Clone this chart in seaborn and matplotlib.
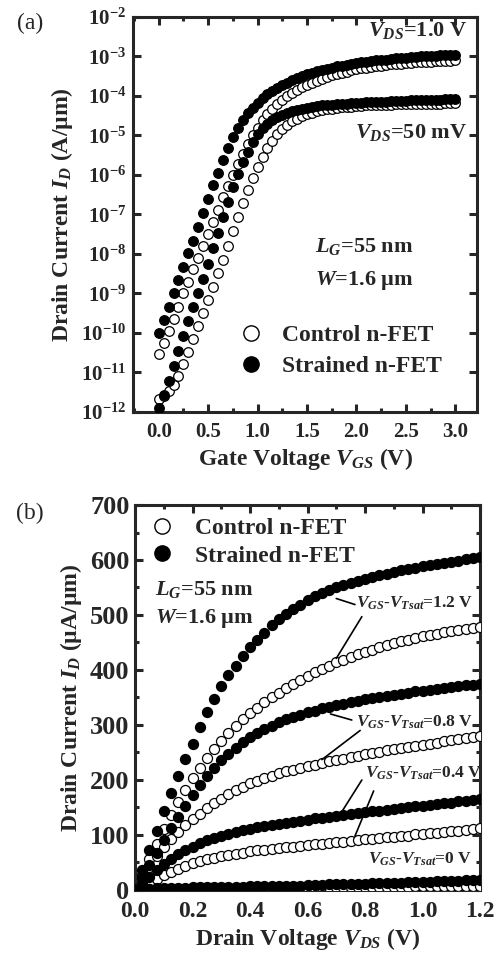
import numpy as np
import pandas as pd
import matplotlib
matplotlib.use("Agg")
import matplotlib.pyplot as plt
import seaborn as sns
from matplotlib.lines import Line2D
from matplotlib.ticker import MultipleLocator, FixedLocator, FuncFormatter, NullLocator

# ---------------- data: panel (a)  (log10 of I_D in A/um) ----------------
vgs = np.round(np.arange(0, 3.0001, 0.05), 3)

log_strained_vds1 = [-10.0, -9.67, -9.33, -9.0, -8.66, -8.34, -7.98, -7.66, -7.31, -6.97,
                     -6.6, -6.25, -5.94, -5.62, -5.32, -5.05, -4.82, -4.61, -4.44, -4.30,
                     -4.17, -4.06, -3.96, -3.87, -3.79, -3.72, -3.66, -3.60, -3.55, -3.50,
                     -3.45, -3.41, -3.37, -3.34, -3.31, -3.28, -3.25, -3.23, -3.21, -3.19,
                     -3.17, -3.15, -3.13, -3.12, -3.10, -3.09, -3.08, -3.06, -3.05, -3.04,
                     -3.03, -3.02, -3.01, -3.00, -2.99, -2.99, -2.98, -2.97, -2.97, -2.96,
                     -2.96]
log_control_vds1 = [-10.52, -10.26, -9.95, -9.65, -9.33, -9.0, -8.70, -8.39, -8.09, -7.79,
                    -7.49, -7.20, -6.89, -6.56, -6.27, -5.99, -5.71, -5.46, -5.22, -5.0,
                    -4.80, -4.62, -4.46, -4.32, -4.19, -4.10, -4.00, -3.92, -3.85, -3.78,
                    -3.72, -3.66, -3.61, -3.56, -3.52, -3.48, -3.44, -3.41, -3.38, -3.35,
                    -3.32, -3.30, -3.28, -3.26, -3.24, -3.23, -3.21, -3.20, -3.19, -3.18,
                    -3.17, -3.16, -3.15, -3.14, -3.14, -3.13, -3.12, -3.12, -3.11, -3.11,
                    -3.10]
log_strained_vds50 = [-11.91, -11.57, -11.21, -10.83, -10.45, -10.08, -9.70, -9.35, -8.98, -8.63,
                      -8.25, -7.85, -7.47, -7.07, -6.68, -6.31, -5.97, -5.68, -5.42, -5.17,
                      -4.95, -4.82, -4.71, -4.62, -4.54, -4.48, -4.43, -4.39, -4.35, -4.32,
                      -4.30, -4.28, -4.26, -4.24, -4.23, -4.22, -4.21, -4.20, -4.19, -4.18,
                      -4.17, -4.17, -4.16, -4.15, -4.15, -4.14, -4.14, -4.13, -4.13, -4.12,
                      -4.12, -4.11, -4.11, -4.10, -4.10, -4.10, -4.09, -4.09, -4.08, -4.08,
                      -4.07]
log_control_vds50 = [-11.68, -11.60, -11.46, -11.31, -11.09, -10.78, -10.47, -10.14, -9.83, -9.49,
                     -9.17, -8.83, -8.49, -8.15, -7.79, -7.43, -7.07, -6.71, -6.38, -6.07,
                     -5.79, -5.54, -5.32, -5.13, -4.97, -4.84, -4.73, -4.64, -4.57, -4.51,
                     -4.46, -4.42, -4.39, -4.36, -4.34, -4.32, -4.30, -4.29, -4.28, -4.27,
                     -4.26, -4.25, -4.24, -4.24, -4.23, -4.23, -4.22, -4.22, -4.21, -4.21,
                     -4.21, -4.20, -4.20, -4.20, -4.19, -4.19, -4.19, -4.19, -4.18, -4.18,
                     -4.18]

# ---------------- data: panel (b)  (I_D in uA/um) ----------------
vds = np.round(np.arange(0, 1.2001, 0.025), 3)

strained_12 = [0, 37, 72, 108, 143, 176, 207, 238, 266, 297,
               324, 347, 370, 390, 408, 425, 441, 455, 468, 481,
               492, 502, 511, 519, 527, 534, 540, 545, 550, 554,
               558, 562, 566, 569, 572, 575, 578, 581, 584, 586,
               589, 591, 593, 595, 597, 599, 601, 603, 605]
control_12 = [0, 28, 56, 84, 111, 136, 160, 182, 203, 222,
              240, 256, 271, 285, 298, 310, 321, 331, 341, 350,
              359, 367, 375, 382, 389, 396, 402, 408, 414, 419,
              424, 429, 433, 437, 441, 445, 449, 452, 455, 458,
              461, 464, 466, 469, 471, 473, 475, 477, 479]
strained_08 = [0, 22, 45, 68, 90, 112, 133, 153, 172, 190,
               207, 222, 236, 248, 259, 269, 278, 286, 293, 299,
               305, 310, 315, 319, 323, 326, 330, 333, 336, 339,
               342, 344, 347, 349, 351, 353, 355, 357, 359, 361,
               362, 364, 366, 367, 369, 370, 372, 373, 375]
control_08 = [0, 22, 42, 62, 79, 93, 106, 118, 129, 139,
              149, 158, 166, 174, 181, 188, 194, 199, 204, 208,
              212, 216, 219, 222, 225, 228, 231, 234, 237, 239,
              242, 244, 247, 249, 251, 254, 256, 258, 260, 262,
              264, 266, 268, 270, 272, 274, 276, 278, 280]
strained_04 = [0, 12, 24, 36, 47, 56, 65, 72, 79, 85,
               90, 95, 99, 102, 106, 109, 111, 114, 116, 118,
               120, 122, 124, 126, 128, 130, 131, 133, 135, 137,
               138, 140, 141, 143, 144, 146, 147, 149, 150, 152,
               153, 155, 156, 158, 159, 161, 162, 164, 165]
control_04 = [0, 6, 13, 20, 27, 33, 39, 44, 49, 53,
              56, 59, 62, 64, 66, 68, 70, 72, 73, 75,
              76, 78, 79, 80, 82, 83, 84, 86, 87, 88,
              89, 91, 92, 93, 94, 96, 97, 98, 99, 101,
              102, 103, 104, 106, 107, 108, 109, 111, 112]
strained_00 = [0, 1, 2, 3, 3, 4, 4, 4, 5, 5,
               5, 5, 6, 6, 6, 6, 7, 7, 7, 7,
               8, 8, 8, 8, 9, 9, 9, 10, 10, 10,
               11, 11, 11, 12, 12, 12, 13, 13, 14, 14,
               15, 15, 16, 16, 17, 17, 18, 18, 19]
control_00 = [0, 1, 1, 1, 2, 2, 2, 2, 2, 2,
              3, 3, 3, 3, 3, 3, 3, 3, 4, 4,
              4, 4, 4, 4, 4, 4, 5, 5, 5, 5,
              5, 5, 5, 6, 6, 6, 6, 6, 6, 7,
              7, 7, 7, 7, 8, 8, 8, 8, 8]

legend_labels = ["Control n-FET", "Strained n-FET"]

# ---------------- style ----------------
sns.set_style("ticks")
plt.rcParams["font.family"] = ["Liberation Serif", "DejaVu Serif"]
plt.rcParams["font.weight"] = "bold"
plt.rcParams["mathtext.fontset"] = "custom"
plt.rcParams["mathtext.rm"] = "Liberation Serif:bold"
plt.rcParams["mathtext.it"] = "Liberation Serif:italic:bold"
plt.rcParams["mathtext.bf"] = "Liberation Serif:bold"
plt.rcParams["axes.linewidth"] = 2.2

fig = plt.figure(figsize=(4.98, 9.55), dpi=100)
axA = fig.add_axes([0.2671, 0.5686, 0.6908, 0.4136])
axB = fig.add_axes([0.2711, 0.0681, 0.6928, 0.4031])

MS = 48
EW = 0.9

# ---------------- panel (a) ----------------
dfa = pd.DataFrame({
    "vgs": np.concatenate([vgs] * 4),
    "id": 10 ** np.concatenate([log_control_vds1, log_control_vds50,
                                log_strained_vds1, log_strained_vds50]),
    "dev": ["Control"] * (2 * len(vgs)) + ["Strained"] * (2 * len(vgs)),
})
sns.scatterplot(data=dfa[dfa.dev == "Control"], x="vgs", y="id", ax=axA,
                color="white", edgecolor="black", linewidth=EW, s=MS, zorder=3, legend=False)
sns.scatterplot(data=dfa[dfa.dev == "Strained"], x="vgs", y="id", ax=axA,
                color="black", edgecolor="black", linewidth=EW, s=MS, zorder=4, legend=False)
axA.set_yscale("log")
axA.set_xlim(-0.26, 3.22)
axA.set_ylim(1e-12, 1e-2)
axA.xaxis.set_major_locator(MultipleLocator(0.5))
axA.xaxis.set_minor_locator(MultipleLocator(0.25))
axA.xaxis.set_major_formatter(FuncFormatter(lambda v, p: f"{v:.1f}"))
axA.yaxis.set_major_locator(FixedLocator([10.0 ** k for k in range(-12, -1)]))
axA.yaxis.set_minor_locator(NullLocator())
axA.yaxis.set_major_formatter(FuncFormatter(lambda v, p: r"$\mathbf{10^{%d}}$" % round(np.log10(v))))
axA.tick_params(which="both", direction="in", top=True, right=True, width=2.2)
axA.tick_params(which="major", length=6, labelsize=15, pad=5)
axA.tick_params(axis="x", which="major", pad=7)
axA.tick_params(which="minor", length=3)
axA.set_xlabel(r"Gate Voltage $V_{GS}$ (V)", fontsize=17, fontweight="bold", labelpad=3)
axA.set_ylabel(r"Drain Current $I_D$ (A/µm)", fontsize=17, fontweight="bold", labelpad=4)

axA.text(3.12, 10 ** -2.33, r"$V_{DS}$=1.0 V", ha="right", va="center", fontsize=16)
axA.text(3.12, 10 ** -4.92, r"$V_{DS}$=50 mV", ha="right", va="center", fontsize=16)
axA.text(2.08, 10 ** -7.82, r"$L_G$=55 nm", ha="center", va="center", fontsize=16)
axA.text(2.08, 10 ** -8.66, r"$W$=1.6 µm", ha="center", va="center", fontsize=16)

handles = [Line2D([], [], ls="none", marker="o", mfc="white", mec="black", ms=11, mew=1.0),
           Line2D([], [], ls="none", marker="o", mfc="black", mec="black", ms=11, mew=1.0)]
axA.legend(handles, legend_labels, loc="upper left", bbox_to_anchor=(0.31, 0.222),
           frameon=False, handlelength=1.0, handletextpad=0.8,
           labelspacing=0.4, borderpad=0, borderaxespad=0,
           prop={"weight": "bold", "size": 17})

# ---------------- panel (b) ----------------
ctrl_all = [control_12, control_08, control_04, control_00]
str_all = [strained_12, strained_08, strained_04, strained_00]
dfb = pd.DataFrame({
    "vds": np.concatenate([vds] * 8),
    "id": np.concatenate(ctrl_all + str_all),
    "dev": ["Control"] * (4 * len(vds)) + ["Strained"] * (4 * len(vds)),
})
sns.scatterplot(data=dfb[dfb.dev == "Control"], x="vds", y="id", ax=axB,
                color="white", edgecolor="black", linewidth=EW, s=52, zorder=3, legend=False)
sns.scatterplot(data=dfb[dfb.dev == "Strained"], x="vds", y="id", ax=axB,
                color="black", edgecolor="black", linewidth=EW, s=52, zorder=4, legend=False)
axB.set_xlim(0, 1.2)
axB.set_ylim(0, 700)
axB.xaxis.set_major_locator(MultipleLocator(0.2))
axB.xaxis.set_minor_locator(MultipleLocator(0.1))
axB.xaxis.set_major_formatter(FuncFormatter(lambda v, p: f"{v:.1f}"))
axB.yaxis.set_major_locator(MultipleLocator(100))
axB.yaxis.set_minor_locator(MultipleLocator(50))
axB.tick_params(which="both", direction="in", top=True, right=True, width=2.2)
axB.tick_params(which="major", length=6, pad=5)
axB.tick_params(axis="x", which="major", labelsize=17, pad=8)
axB.tick_params(axis="y", which="major", labelsize=19, pad=4)
axB.tick_params(which="minor", length=3)
axB.set_xlabel(r"Drain Voltage $V_{DS}$ (V)", fontsize=17, fontweight="bold", labelpad=3)
axB.set_ylabel(r"Drain Current $I_D$ (µA/µm)", fontsize=17, fontweight="bold", labelpad=4)

axB.legend(handles, legend_labels, loc="upper left", bbox_to_anchor=(0.045, 0.967),
           frameon=False, handlelength=1.0, handletextpad=0.9,
           labelspacing=0.25, borderpad=0, borderaxespad=0,
           prop={"weight": "bold", "size": 17})
axB.text(0.07, 546, r"$L_G$=55 nm", ha="left", va="center", fontsize=16)
axB.text(0.07, 494, r"$W$=1.6 µm", ha="left", va="center", fontsize=16)

lab_kw = dict(ha="left", va="center", fontsize=12.5, zorder=6)
axB.text(0.77, 522, r"$V_{GS}$-$V_{Tsat}$=1.2 V", **lab_kw)
axB.text(0.77, 305, r"$V_{GS}$-$V_{Tsat}$=0.8 V", **lab_kw)
axB.text(0.80, 212, r"$V_{GS}$-$V_{Tsat}$=0.4 V", **lab_kw)
axB.text(0.81, 56, r"$V_{GS}$-$V_{Tsat}$=0 V", **lab_kw)

lk = dict(arrowprops=dict(arrowstyle="-", color="black", lw=1.2, shrinkA=0, shrinkB=0))
axB.annotate("", xy=(0.70, 530), xytext=(0.765, 519), **lk)
axB.annotate("", xy=(0.70, 421), xytext=(0.789, 497), **lk)
axB.annotate("", xy=(0.68, 320), xytext=(0.754, 309), **lk)
axB.annotate("", xy=(0.65, 237), xytext=(0.783, 290), **lk)
axB.annotate("", xy=(0.713, 137), xytext=(0.789, 200), **lk)
axB.annotate("", xy=(0.765, 98), xytext=(0.83, 180), **lk)

fig.text(30 / 498, 1 - 23 / 955, "(a)", ha="center", va="center", fontsize=17, fontweight="normal")
fig.text(30 / 498, 1 - 513 / 955, "(b)", ha="center", va="center", fontsize=17, fontweight="normal")

fig.savefig("out.png", dpi=100)
